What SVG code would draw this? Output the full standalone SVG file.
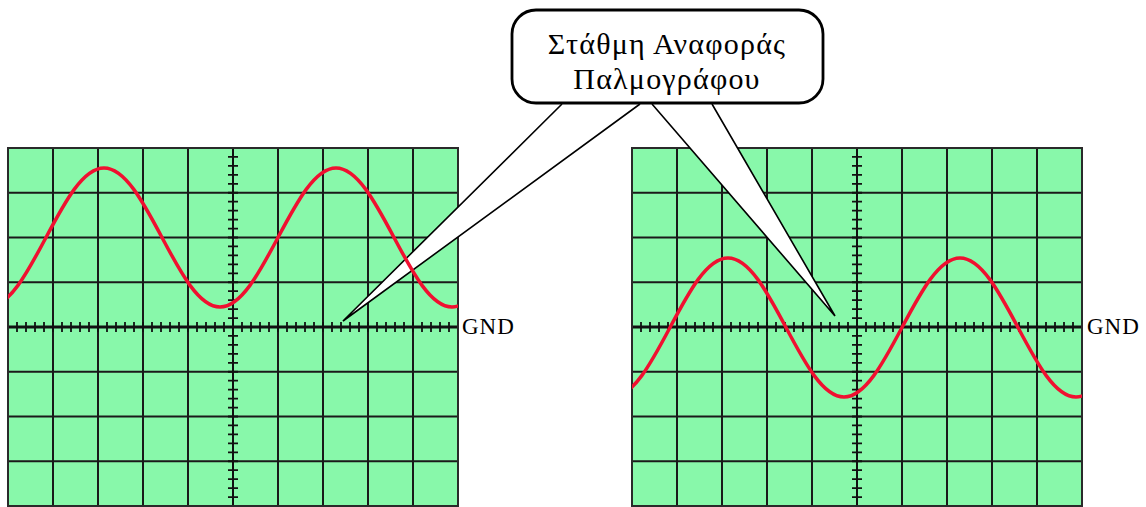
<svg xmlns="http://www.w3.org/2000/svg" xmlns:xlink="http://www.w3.org/1999/xlink" width="1146" height="507" viewBox="0 0 1146 507">
<style>
.bg{fill:#88f8aa}
.frame{fill:none;stroke:#2a2a2a;stroke-width:2}
.grid{stroke:#1a1a1a;stroke-width:2;fill:none}
.haxis{stroke:#111;stroke-width:3;fill:none}
.vaxis{stroke:#111;stroke-width:2;fill:none}
.htick{stroke:#111;stroke-width:10;stroke-dasharray:1.8 7.2;stroke-dashoffset:0.9;fill:none}
.vtick{stroke:#111;stroke-width:10;stroke-dasharray:1.8 7.15;stroke-dashoffset:0.9;fill:none}
.wave{fill:none;stroke:#f01030;stroke-width:3.5}
.lbl{font-family:"Liberation Serif","Times New Roman",serif;fill:#000}
.wedge{fill:#fff;stroke:#000;stroke-width:1.6;stroke-linejoin:miter}
.box{fill:#fff;stroke:#000;stroke-width:2.8}
</style>
<defs>
<g id="scope">
<rect class="bg" x="8" y="148" width="450" height="358"/>
<path class="grid" d="M53 148V506M98 148V506M143 148V506M188 148V506M278 148V506M323 148V506M368 148V506M413 148V506M8 192.75H458M8 237.5H458M8 282.25H458M8 371.75H458M8 416.5H458M8 461.25H458"/>
<path class="haxis" d="M8 327H458"/>
<path class="vaxis" d="M233 148V506"/>
<path class="htick" d="M8 327H458"/>
<path class="vtick" d="M233 148V506"/>
<rect class="frame" x="8" y="148" width="450" height="358"/>
</g>
<path id="wave" class="wave" d="M-70 237.5c18.91 35.61 37 69.5 58 69.5c21 0 39.09-33.89 58-69.5c18.91-35.61 37-69.5 58-69.5c21 0 39.09 33.89 58 69.5c18.91 35.61 37 69.5 58 69.5c21 0 39.09-33.89 58-69.5c18.91-35.61 37-69.5 58-69.5c21 0 39.09 33.89 58 69.5c18.91 35.61 37 69.5 58 69.5c21 0 39.09-33.89 58-69.5"/>
<clipPath id="clipL"><rect x="8" y="148" width="450" height="358"/></clipPath>
<clipPath id="clipR"><rect x="632" y="148" width="450" height="358"/></clipPath>
</defs>
<g id="scope-left"><use xlink:href="#scope"/></g>
<g id="scope-right"><use xlink:href="#scope" transform="translate(624,0)"/></g>
<g id="connectors">
<path class="wedge" d="M562 104L343 321L640 104"/>
<path class="wedge" d="M652 104L835 316L712 104"/>
</g>
<g id="traces">
<g clip-path="url(#clipL)"><use xlink:href="#wave"/></g>
<g clip-path="url(#clipR)"><use xlink:href="#wave" transform="translate(624,90)"/></g>
</g>
<g id="callout">
<rect class="box" x="512" y="10" width="311" height="93" rx="24" ry="24"/>
<text class="lbl" x="667" y="54" font-size="30" letter-spacing="1.2" text-anchor="middle">Στάθμη Αναφοράς</text>
<text class="lbl" x="667" y="89" font-size="30" letter-spacing="1.2" text-anchor="middle">Παλμογράφου</text>
</g>
<g id="gnd-labels">
<text class="lbl" x="462" y="334" font-size="23" letter-spacing="1">GND</text>
<text class="lbl" x="1087" y="334" font-size="23" letter-spacing="1">GND</text>
</g>
</svg>
